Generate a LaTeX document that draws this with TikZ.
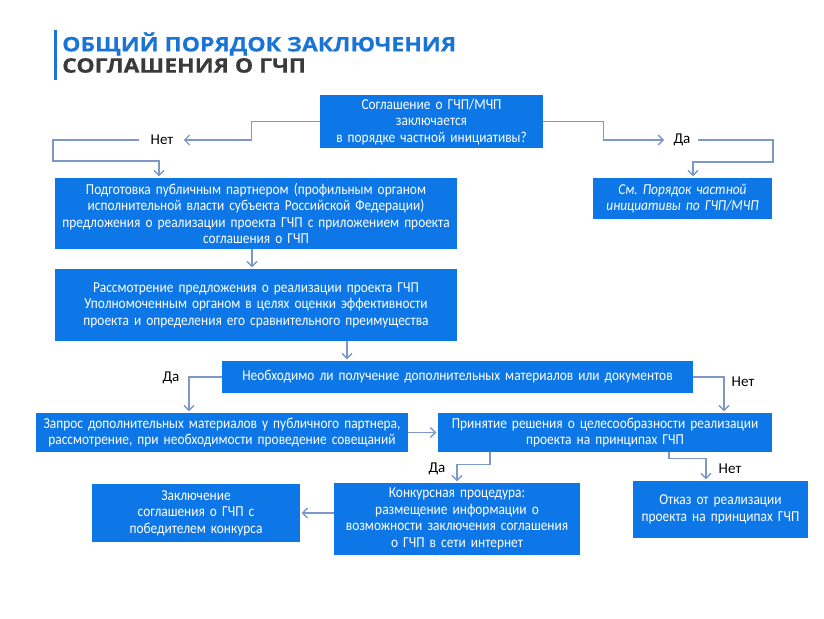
\documentclass[tikz,border=0pt]{standalone}
\usepackage{fontspec}
\setmainfont{Carlito}[FakeStretch=0.88]
\newfontfamily\lblfont{Carlito}
\newfontfamily\headfont{Open Sans}[FakeStretch=1.15,BoldFeatures={FakeBold=0.5}]
\usetikzlibrary{arrows.meta}
\definecolor{boxblue}{RGB}{14,119,232}
\definecolor{linkblue}{RGB}{124,152,200}
\definecolor{headblue}{RGB}{26,116,214}
\definecolor{headgray}{RGB}{58,58,58}
\frenchspacing
\begin{document}
\begin{tikzpicture}[x=1pt,y=-1pt,
		box/.style={fill=boxblue,text=white,align=center,inner sep=0pt,font=\fontsize{15.2}{16.5}\selectfont},
		lbl/.style={font=\lblfont\fontsize{15}{16}\selectfont},
		link/.style={draw=linkblue,line width=1.3pt,-{Straight Barb[length=5pt,width=10pt]},shorten >=1.5pt}]
	\useasboundingbox (0,0) rectangle (824,618);
	\draw [headblue,line width=3pt] (55,30) -- (55,80);
	\node [anchor=west,inner sep=0pt,text=headblue,font=\headfont\bfseries\fontsize{20}{21}\selectfont] (head1) at (62,44) {ОБЩИЙ ПОРЯДОК ЗАКЛЮЧЕНИЯ};
	\node [anchor=west,inner sep=0pt,text=headgray,font=\headfont\bfseries\fontsize{20}{21}\selectfont] (head2) at (62,65.5) {СОГЛАШЕНИЯ О ГЧП};
	\node [box,text width=223pt,minimum height=53pt] (ask) at (431.5,121.5) {Соглашение о ГЧП/МЧП\\заключается\\в порядке частной инициативы?};
	\node [box,text width=179pt,minimum height=41pt,font=\fontsize{15.2}{16.5}\selectfont\itshape] (priv) at (682.5,198.5) {См. Порядок частной\\инициативы по ГЧП/МЧП};
	\node [box,text width=402pt,minimum height=71pt] (prep) at (256,213.5) {Подготовка публичным партнером (профильным органом\\исполнительной власти субъекта Российской Федерации)\\предложения о реализации проекта ГЧП с приложением проекта\\соглашения о ГЧП};
	\node [box,text width=402pt,minimum height=72pt] (eval) at (256,305) {Рассмотрение предложения о реализации проекта ГЧП\\Уполномоченным органом в целях оценки эффективности\\проекта и определения его сравнительного преимущества};
	\node [box,text width=471pt,minimum height=32pt] (need) at (457.5,377) {Необходимо ли получение дополнительных материалов или документов};
	\node [box,text width=372pt,minimum height=39pt] (req) at (222,432.5) {Запрос дополнительных материалов у публичного партнера,\\рассмотрение, при необходимости проведение совещаний};
	\node [box,text width=334pt,minimum height=39pt] (dec) at (605,432.5) {Принятие решения о целесообразности реализации\\проекта на принципах ГЧП};
	\node [box,text width=246pt,minimum height=72pt] (comp) at (457,519) {Конкурсная процедура:\\размещение информации о\\возможности заключения соглашения\\о ГЧП в сети интернет};
	\node [box,text width=175pt,minimum height=57pt] (refuse) at (720.5,509.5) {Отказ от реализации\\проекта на принципах ГЧП};
	\node [box,text width=208pt,minimum height=58pt] (win) at (196,513) {Заключение\\соглашения о ГЧП с\\победителем конкурса};
	\node [lbl] (no1) at (162,140) {Нет};
	\node [lbl] (yes1) at (682,140) {Да};
	\node [lbl] (yes2) at (171,378) {Да};
	\node [lbl] (no2) at (743,382) {Нет};
	\node [lbl] (yes3) at (437,469) {Да};
	\node [lbl] (no3) at (730,469) {Нет};
	\draw [link,shorten >=7pt] (ask.west) -- ++(-68,0) |- (no1.east);
	\draw [link,shorten <=8pt] (no1.west) -- (53,140) -- (53,161) -| ([xshift=-97pt]prep.north);
	\draw [link,shorten >=6pt] (ask.east) -- ++(60,0) |- (yes1.west);
	\draw [link,shorten <=4pt] (yes1.east) -- (773,140) -- (773,162) -| ([xshift=10.5pt]priv.north);
	\draw [link] ([xshift=-4pt]prep.south) -- ([xshift=-4pt]eval.north);
	\draw [link] ([xshift=91pt]eval.south) -- ([xshift=91pt]eval.south |- need.north);
	\draw [link] (need.west) -| ([xshift=-33pt]req.north);
	\draw [link] (need.east) -| ([xshift=119pt]dec.north);
	\draw [link] (req) -- (dec);
	\draw [link] ([xshift=-115pt]dec.south) -- ++(0,12) -| (comp.north);
	\draw [link] ([xshift=64pt]dec.south) -- ++(0,6) -| ([xshift=-14.5pt]refuse.north);
	\draw [link] (comp.west |- win.east) -- (win.east);
\end{tikzpicture}
\end{document}
